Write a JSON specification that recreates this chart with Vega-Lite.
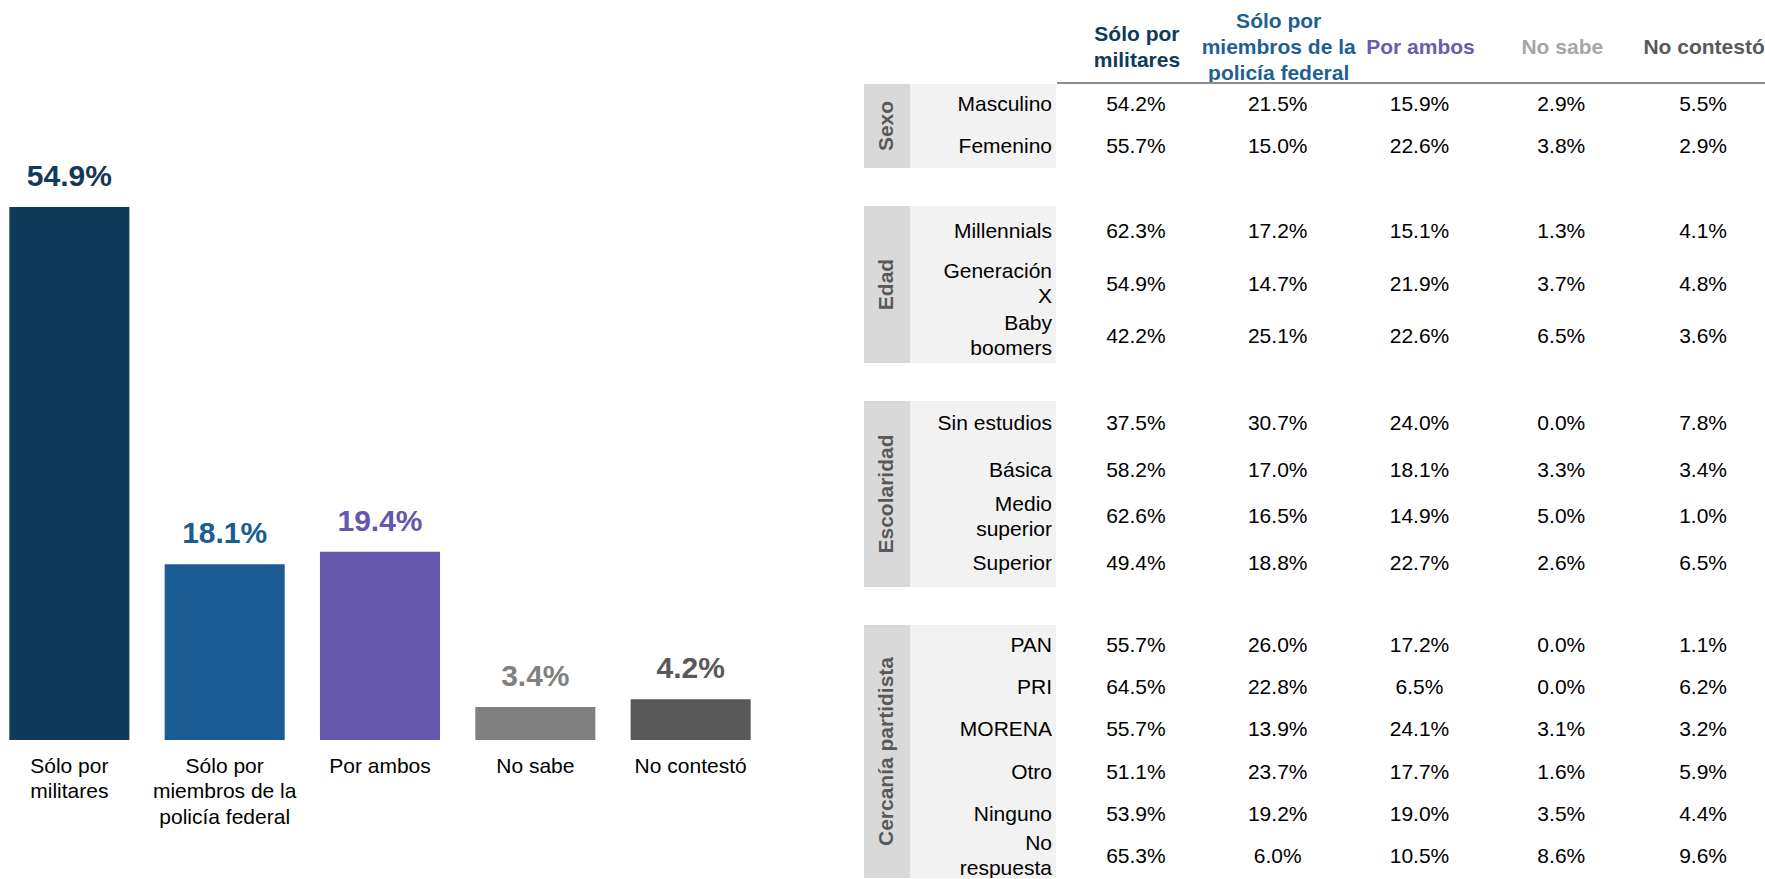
{
  "$schema": "https://vega.github.io/schema/vega-lite/v6.json",
  "padding": 0,
  "background": "white",
  "spacing": 104,
  "config": {
    "view": {"stroke": null},
    "font": "Liberation Sans",
    "text": {"font": "Liberation Sans"}
  },
  "datasets": {
    "overall": [
      {"cat": "Sólo por militares", "v": 0.549},
      {"cat": "Sólo por miembros de la policía federal", "v": 0.181},
      {"cat": "Por ambos", "v": 0.194},
      {"cat": "No sabe", "v": 0.034},
      {"cat": "No contestó", "v": 0.042}
    ],
    "groups": [
      {"group": "Sexo"},
      {"group": "Edad"},
      {"group": "Escolaridad"},
      {"group": "Cercanía partidista"}
    ],
    "cols": [
      {"key": "c1", "name": ["Sólo por", "militares"]},
      {"key": "c2", "name": ["Sólo por", "miembros de la", "policía federal"]},
      {"key": "c3", "name": "Por ambos"},
      {"key": "c4", "name": "No sabe"},
      {"key": "c5", "name": "No contestó"}
    ],
    "rows": [
      {"group": "Sexo", "row": "Masculino", "lbl": "Masculino", "c1": 0.542, "c2": 0.215, "c3": 0.159, "c4": 0.029, "c5": 0.055},
      {"group": "Sexo", "row": "Femenino", "lbl": "Femenino", "c1": 0.557, "c2": 0.150, "c3": 0.226, "c4": 0.038, "c5": 0.029},
      {"group": "Edad", "row": "Millennials", "lbl": "Millennials", "c1": 0.623, "c2": 0.172, "c3": 0.151, "c4": 0.013, "c5": 0.041},
      {"group": "Edad", "row": "Generación X", "lbl": ["Generación", "X"], "c1": 0.549, "c2": 0.147, "c3": 0.219, "c4": 0.037, "c5": 0.048},
      {"group": "Edad", "row": "Baby boomers", "lbl": ["Baby", "boomers"], "c1": 0.422, "c2": 0.251, "c3": 0.226, "c4": 0.065, "c5": 0.036},
      {"group": "Escolaridad", "row": "Sin estudios", "lbl": "Sin estudios", "c1": 0.375, "c2": 0.307, "c3": 0.240, "c4": 0.000, "c5": 0.078},
      {"group": "Escolaridad", "row": "Básica", "lbl": "Básica", "c1": 0.582, "c2": 0.170, "c3": 0.181, "c4": 0.033, "c5": 0.034},
      {"group": "Escolaridad", "row": "Medio superior", "lbl": ["Medio", "superior"], "c1": 0.626, "c2": 0.165, "c3": 0.149, "c4": 0.050, "c5": 0.010},
      {"group": "Escolaridad", "row": "Superior", "lbl": "Superior", "c1": 0.494, "c2": 0.188, "c3": 0.227, "c4": 0.026, "c5": 0.065},
      {"group": "Cercanía partidista", "row": "PAN", "lbl": "PAN", "c1": 0.557, "c2": 0.260, "c3": 0.172, "c4": 0.000, "c5": 0.011},
      {"group": "Cercanía partidista", "row": "PRI", "lbl": "PRI", "c1": 0.645, "c2": 0.228, "c3": 0.065, "c4": 0.000, "c5": 0.062},
      {"group": "Cercanía partidista", "row": "MORENA", "lbl": "MORENA", "c1": 0.557, "c2": 0.139, "c3": 0.241, "c4": 0.031, "c5": 0.032},
      {"group": "Cercanía partidista", "row": "Otro", "lbl": "Otro", "c1": 0.511, "c2": 0.237, "c3": 0.177, "c4": 0.016, "c5": 0.059},
      {"group": "Cercanía partidista", "row": "Ninguno", "lbl": "Ninguno", "c1": 0.539, "c2": 0.192, "c3": 0.190, "c4": 0.035, "c5": 0.044},
      {"group": "Cercanía partidista", "row": "No respuesta", "lbl": ["No", "respuesta"], "c1": 0.653, "c2": 0.060, "c3": 0.105, "c4": 0.086, "c5": 0.096}
    ]
  },
  "resolve": {"scale": {"color": "independent"}},
  "hconcat": [
    {
      "width": 760,
      "height": 740,
      "data": {"name": "overall"},
      "encoding": {
        "x": {
          "field": "cat", "type": "nominal", "sort": null,
          "scale": {"paddingInner": 0.227, "paddingOuter": 0.06},
          "axis": {
            "title": null, "orient": "bottom", "domain": false, "ticks": false,
            "labelAngle": 0, "labelFontSize": 21, "labelColor": "#000000",
            "labelPadding": 15, "labelLineHeight": 25.5, "labelBaseline": "top",
            "labelFont": "Liberation Sans", "labelLimit": 400,
            "labelExpr": "datum.value == 'Sólo por militares' ? ['Sólo por','militares'] : datum.value == 'Sólo por miembros de la policía federal' ? ['Sólo por','miembros de la','policía federal'] : datum.value"
          }
        },
        "color": {
          "field": "cat", "type": "nominal", "sort": null, "legend": null,
          "scale": {
            "domain": ["Sólo por militares", "Sólo por miembros de la policía federal", "Por ambos", "No sabe", "No contestó"],
            "range": ["#0f3a5a", "#1a5c93", "#6658ae", "#808080", "#595959"]
          }
        }
      },
      "layer": [
        {
          "mark": {"type": "bar"},
          "encoding": {
            "y": {"field": "v", "type": "quantitative", "scale": {"domain": [0, 0.7622], "nice": false}, "axis": null}
          }
        },
        {
          "mark": {"type": "text", "fontWeight": "bold", "fontSize": 30, "baseline": "alphabetic", "dy": -21},
          "encoding": {
            "y": {"field": "v", "type": "quantitative"},
            "text": {"field": "v", "type": "quantitative", "format": ".1%"}
          }
        }
      ]
    },
    {
      "spacing": 0,
      "vconcat": [
        {
          "spacing": 0,
          "hconcat": [
            {
              "width": 192, "height": 83,
              "data": {"values": [{}]},
              "mark": {"type": "text"},
              "encoding": {"text": {"value": ""}}
            },
            {
              "width": 709, "height": 83,
              "data": {"name": "cols"},
              "encoding": {
                "x": {"field": "key", "type": "nominal", "sort": null, "axis": null, "scale": {"domain": ["c1", "c2", "c3", "c4", "c5"]}},
                "color": {
                  "field": "key", "type": "nominal", "legend": null,
                  "scale": {"domain": ["c1", "c2", "c3", "c4", "c5"], "range": ["#0f3a5a", "#1f5f96", "#6a5bb0", "#a6a6a6", "#595959"]}
                }
              },
              "layer": [
                {
                  "mark": {"type": "text", "clip": true, "fontWeight": "bold", "fontSize": 21, "lineHeight": 26, "baseline": "middle", "align": "center", "dx": 9, "dy": 6.5},
                  "encoding": {"text": {"condition": {"test": "!isArray(datum.name)", "field": "name"}, "value": ""}}
                },
                {
                  "mark": {"type": "text", "clip": true, "fontWeight": "bold", "fontSize": 21, "lineHeight": 26, "baseline": "middle", "align": "center", "dx": 9, "dy": -6.5},
                  "encoding": {"text": {"condition": {"test": "isArray(datum.name) && length(datum.name) == 2", "field": "name"}, "value": ""}}
                },
                {
                  "mark": {"type": "text", "clip": true, "fontWeight": "bold", "fontSize": 21, "lineHeight": 26, "baseline": "middle", "align": "center", "dx": 9, "dy": -19.5},
                  "encoding": {"text": {"condition": {"test": "isArray(datum.name) && length(datum.name) == 3", "field": "name"}, "value": ""}}
                },
                {
                  "data": {"values": [{}]},
                  "mark": {"type": "rule", "color": "#8c8c8c", "strokeWidth": 2},
                  "encoding": {"y": {"value": "height"}, "x": {"value": 0}, "x2": {"value": "width"}, "color": {"value": "#8c8c8c"}}
                }
              ]
            }
          ]
        },
        {
          "spacing": 38,
          "vconcat": [
            {
              "spacing": 0,
              "hconcat": [
                {
                  "width": 46, "height": 84, "view": {"fill": "#d9d9d9", "stroke": null},
                  "data": {"name": "groups"}, "transform": [{"filter": "datum.group == 'Sexo'"}],
                  "mark": {"type": "text", "clip": true, "angle": 270, "fontWeight": "bold", "fontSize": 21, "color": "#595959", "align": "center", "baseline": "middle"},
                  "encoding": {"text": {"field": "group"}}
                },
                {
                  "width": 146, "height": 84, "view": {"fill": "#f2f2f2", "stroke": null},
                  "data": {"name": "rows"}, "transform": [{"filter": "datum.group == 'Sexo'"}],
                  "encoding": {"y": {"field": "row", "type": "nominal", "sort": null, "axis": null}, "x": {"value": "width"}},
                  "layer": [
                    {"mark": {"type": "text", "clip": true, "align": "right", "baseline": "middle", "fontSize": 21, "lineHeight": 25, "dx": -4, "color": "#000000"},
                     "encoding": {"text": {"condition": {"test": "!isArray(datum.lbl)", "field": "lbl"}, "value": ""}}},
                    {"mark": {"type": "text", "clip": true, "align": "right", "baseline": "middle", "fontSize": 21, "lineHeight": 25, "dx": -4, "dy": -12.5, "color": "#000000"},
                     "encoding": {"text": {"condition": {"test": "isArray(datum.lbl)", "field": "lbl"}, "value": ""}}}
                  ]
                },
                {
                  "width": 709, "height": 84,
                  "data": {"name": "rows"}, "transform": [{"filter": "datum.group == 'Sexo'"}, {"fold": ["c1", "c2", "c3", "c4", "c5"], "as": ["key", "val"]}],
                  "mark": {"type": "text", "clip": true, "fontSize": 21, "baseline": "middle", "align": "center", "dx": 9, "color": "#000000"},
                  "encoding": {
                    "x": {"field": "key", "type": "nominal", "sort": null, "axis": null, "scale": {"domain": ["c1", "c2", "c3", "c4", "c5"]}},
                    "y": {"field": "row", "type": "nominal", "sort": null, "axis": null},
                    "text": {"field": "val", "type": "quantitative", "format": ".1%"}
                  }
                }
              ]
            },
            {
              "spacing": 0,
              "hconcat": [
                {
                  "width": 46, "height": 157, "view": {"fill": "#d9d9d9", "stroke": null},
                  "data": {"name": "groups"}, "transform": [{"filter": "datum.group == 'Edad'"}],
                  "mark": {"type": "text", "clip": true, "angle": 270, "fontWeight": "bold", "fontSize": 21, "color": "#595959", "align": "center", "baseline": "middle"},
                  "encoding": {"text": {"field": "group"}}
                },
                {
                  "width": 146, "height": 157, "view": {"fill": "#f2f2f2", "stroke": null},
                  "data": {"name": "rows"}, "transform": [{"filter": "datum.group == 'Edad'"}],
                  "encoding": {"y": {"field": "row", "type": "nominal", "sort": null, "axis": null}, "x": {"value": "width"}},
                  "layer": [
                    {"mark": {"type": "text", "clip": true, "align": "right", "baseline": "middle", "fontSize": 21, "lineHeight": 25, "dx": -4, "color": "#000000"},
                     "encoding": {"text": {"condition": {"test": "!isArray(datum.lbl)", "field": "lbl"}, "value": ""}}},
                    {"mark": {"type": "text", "clip": true, "align": "right", "baseline": "middle", "fontSize": 21, "lineHeight": 25, "dx": -4, "dy": -12.5, "color": "#000000"},
                     "encoding": {"text": {"condition": {"test": "isArray(datum.lbl)", "field": "lbl"}, "value": ""}}}
                  ]
                },
                {
                  "width": 709, "height": 157,
                  "data": {"name": "rows"}, "transform": [{"filter": "datum.group == 'Edad'"}, {"fold": ["c1", "c2", "c3", "c4", "c5"], "as": ["key", "val"]}],
                  "mark": {"type": "text", "clip": true, "fontSize": 21, "baseline": "middle", "align": "center", "dx": 9, "color": "#000000"},
                  "encoding": {
                    "x": {"field": "key", "type": "nominal", "sort": null, "axis": null, "scale": {"domain": ["c1", "c2", "c3", "c4", "c5"]}},
                    "y": {"field": "row", "type": "nominal", "sort": null, "axis": null},
                    "text": {"field": "val", "type": "quantitative", "format": ".1%"}
                  }
                }
              ]
            },
            {
              "spacing": 0,
              "hconcat": [
                {
                  "width": 46, "height": 186, "view": {"fill": "#d9d9d9", "stroke": null},
                  "data": {"name": "groups"}, "transform": [{"filter": "datum.group == 'Escolaridad'"}],
                  "mark": {"type": "text", "clip": true, "angle": 270, "fontWeight": "bold", "fontSize": 21, "color": "#595959", "align": "center", "baseline": "middle"},
                  "encoding": {"text": {"field": "group"}}
                },
                {
                  "width": 146, "height": 186, "view": {"fill": "#f2f2f2", "stroke": null},
                  "data": {"name": "rows"}, "transform": [{"filter": "datum.group == 'Escolaridad'"}],
                  "encoding": {"y": {"field": "row", "type": "nominal", "sort": null, "axis": null}, "x": {"value": "width"}},
                  "layer": [
                    {"mark": {"type": "text", "clip": true, "align": "right", "baseline": "middle", "fontSize": 21, "lineHeight": 25, "dx": -4, "color": "#000000"},
                     "encoding": {"text": {"condition": {"test": "!isArray(datum.lbl)", "field": "lbl"}, "value": ""}}},
                    {"mark": {"type": "text", "clip": true, "align": "right", "baseline": "middle", "fontSize": 21, "lineHeight": 25, "dx": -4, "dy": -12.5, "color": "#000000"},
                     "encoding": {"text": {"condition": {"test": "isArray(datum.lbl)", "field": "lbl"}, "value": ""}}}
                  ]
                },
                {
                  "width": 709, "height": 186,
                  "data": {"name": "rows"}, "transform": [{"filter": "datum.group == 'Escolaridad'"}, {"fold": ["c1", "c2", "c3", "c4", "c5"], "as": ["key", "val"]}],
                  "mark": {"type": "text", "clip": true, "fontSize": 21, "baseline": "middle", "align": "center", "dx": 9, "color": "#000000"},
                  "encoding": {
                    "x": {"field": "key", "type": "nominal", "sort": null, "axis": null, "scale": {"domain": ["c1", "c2", "c3", "c4", "c5"]}},
                    "y": {"field": "row", "type": "nominal", "sort": null, "axis": null},
                    "text": {"field": "val", "type": "quantitative", "format": ".1%"}
                  }
                }
              ]
            },
            {
              "spacing": 0,
              "hconcat": [
                {
                  "width": 46, "height": 253, "view": {"fill": "#d9d9d9", "stroke": null},
                  "data": {"name": "groups"}, "transform": [{"filter": "datum.group == 'Cercanía partidista'"}],
                  "mark": {"type": "text", "clip": true, "angle": 270, "fontWeight": "bold", "fontSize": 21, "color": "#595959", "align": "center", "baseline": "middle"},
                  "encoding": {"text": {"field": "group"}}
                },
                {
                  "width": 146, "height": 253, "view": {"fill": "#f2f2f2", "stroke": null},
                  "data": {"name": "rows"}, "transform": [{"filter": "datum.group == 'Cercanía partidista'"}],
                  "encoding": {"y": {"field": "row", "type": "nominal", "sort": null, "axis": null}, "x": {"value": "width"}},
                  "layer": [
                    {"mark": {"type": "text", "clip": true, "align": "right", "baseline": "middle", "fontSize": 21, "lineHeight": 25, "dx": -4, "color": "#000000"},
                     "encoding": {"text": {"condition": {"test": "!isArray(datum.lbl)", "field": "lbl"}, "value": ""}}},
                    {"mark": {"type": "text", "clip": true, "align": "right", "baseline": "middle", "fontSize": 21, "lineHeight": 25, "dx": -4, "dy": -12.5, "color": "#000000"},
                     "encoding": {"text": {"condition": {"test": "isArray(datum.lbl)", "field": "lbl"}, "value": ""}}}
                  ]
                },
                {
                  "width": 709, "height": 253,
                  "data": {"name": "rows"}, "transform": [{"filter": "datum.group == 'Cercanía partidista'"}, {"fold": ["c1", "c2", "c3", "c4", "c5"], "as": ["key", "val"]}],
                  "mark": {"type": "text", "clip": true, "fontSize": 21, "baseline": "middle", "align": "center", "dx": 9, "color": "#000000"},
                  "encoding": {
                    "x": {"field": "key", "type": "nominal", "sort": null, "axis": null, "scale": {"domain": ["c1", "c2", "c3", "c4", "c5"]}},
                    "y": {"field": "row", "type": "nominal", "sort": null, "axis": null},
                    "text": {"field": "val", "type": "quantitative", "format": ".1%"}
                  }
                }
              ]
            }
          ]
        }
      ]
    }
  ]
}
